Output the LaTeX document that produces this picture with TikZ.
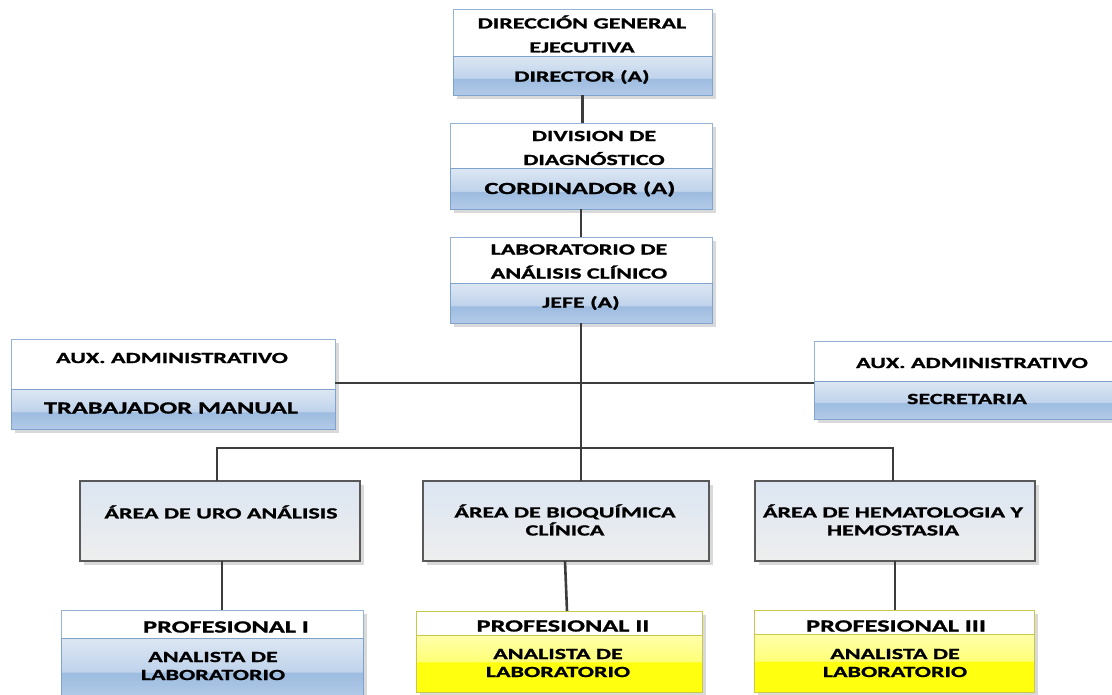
\documentclass[tikz,border=0pt]{standalone}
\usepackage{fontspec}
\setmainfont{Carlito}[FakeStretch=1.55, BoldFeatures={FakeBold=1.2}]
\usetikzlibrary{shadows}
\definecolor{bordeAzul}{HTML}{95B3D7}
\definecolor{bordeAzulO}{HTML}{7FA3CF}
\definecolor{azulT}{HTML}{DDE7F3}
\definecolor{azulM}{HTML}{BFD3EB}
\definecolor{azulD}{HTML}{9DBCE0}
\definecolor{azulB}{HTML}{B2CAE7}
\definecolor{amaT}{HTML}{FFFFAC}
\definecolor{amaM}{HTML}{FFFF78}
\definecolor{amaB}{HTML}{FFFF10}
\definecolor{bordeAma}{HTML}{C8C84A}
\definecolor{grisT}{HTML}{DCE6F2}
\definecolor{grisB}{HTML}{EEEEEE}
\definecolor{grisBorde}{HTML}{595959}
\definecolor{linea}{HTML}{3C3C3C}
\pgfdeclareverticalshading{bandaAzul}{100bp}{color(0bp)=(azulB); color(25bp)=(azulB); color(46bp)=(azulD); color(47bp)=(azulM); color(75bp)=(azulT); color(100bp)=(azulT)}
\pgfdeclareverticalshading{bandaAma}{100bp}{color(0bp)=(amaB); color(25bp)=(amaB); color(51bp)=(amaB); color(52bp)=(amaM); color(75bp)=(amaT); color(100bp)=(amaT)}
\tikzset{
  caja/.style={rectangle, inner sep=0pt, outer sep=0pt, anchor=north west, line width=0.9pt,
    drop shadow={shadow xshift=4pt, shadow yshift=-4pt, fill=black!15, opacity=1}},
  parteBlanca/.style={caja, draw=bordeAzul, fill=white},
  franjaAzul/.style={caja, draw=bordeAzulO, shade, shading=bandaAzul},
  parteAmarilla/.style={caja, draw=bordeAma, fill=white},
  franjaAmarilla/.style={caja, draw=bordeAma, shade, shading=bandaAma},
  area/.style={caja, draw=grisBorde, line width=1.2pt, top color=grisT, bottom color=grisB},
  texto/.style={font=\fontsize{15.5}{18}\selectfont\bfseries, align=center, inner sep=0pt},
  textoA/.style={font=\fontsize{15.5}{24}\selectfont\bfseries, align=center, inner sep=0pt},
  textoG/.style={font=\fontsize{17}{20}\selectfont\bfseries, align=center, inner sep=0pt},
  conector/.style={draw=linea, line width=2.6pt},
}
\begin{document}
\begin{tikzpicture}[x=1pt,y=-1pt]
\useasboundingbox (0,0) rectangle (1112,694);
% direccion general
\node[parteBlanca, minimum width=259pt, minimum height=47pt] (dirT) at (453,9) {};
\node[franjaAzul, minimum width=259pt, minimum height=39pt] (dirB) at (453,56) {};
\node[textoA] (dirTxt) at (582,34) {DIRECCIÓN GENERAL\\EJECUTIVA};
\node[texto] (dirRol) at (582,77) {DIRECTOR (A)};
% division
\node[parteBlanca, minimum width=262pt, minimum height=45pt] (divT) at (450,123) {};
\node[franjaAzul, minimum width=262pt, minimum height=41pt] (divB) at (450,168) {};
\node[textoA] (divTxt) at (594,148) {DIVISION DE\\DIAGNÓSTICO};
\node[textoG] (divRol) at (580,189) {CORDINADOR (A)};
% laboratorio
\node[parteBlanca, minimum width=262pt, minimum height=46pt] (labT) at (450,237) {};
\node[franjaAzul, minimum width=262pt, minimum height=40pt] (labB) at (450,283) {};
\node[textoA] (labTxt) at (579,261.5) {LABORATORIO DE\\ANÁLISIS CLÍNICO};
\node[texto] (labRol) at (581,303) {JEFE (A)};
% auxiliares
\node[parteBlanca, minimum width=324pt, minimum height=50pt] (auxIT) at (11,339) {};
\node[franjaAzul, minimum width=324pt, minimum height=40pt] (auxIB) at (11,389) {};
\node[texto] (auxITxt) at (172,358) {AUX. ADMINISTRATIVO};
\node[textoG] (auxIRol) at (171,408) {TRABAJADOR MANUAL};
\node[parteBlanca, minimum width=310pt, minimum height=40pt] (auxDT) at (814,341) {};
\node[franjaAzul, minimum width=310pt, minimum height=38pt] (auxDB) at (814,381) {};
\node[texto] (auxDTxt) at (972,363) {AUX. ADMINISTRATIVO};
\node[texto] (auxDRol) at (967,399) {SECRETARIA};
% areas
\node[area, minimum width=280pt, minimum height=80pt] (areaUro) at (80,481) {};
\node[area, minimum width=286pt, minimum height=80pt] (areaBio) at (423,481) {};
\node[area, minimum width=280pt, minimum height=80pt] (areaHem) at (755,481) {};
\node[texto] (uroTxt) at (221,512) {ÁREA DE URO ANÁLISIS};
\node[texto] (bioTxt) at (565,520) {ÁREA DE BIOQUÍMICA\\CLÍNICA};
\node[texto] (hemTxt) at (893,520) {ÁREA DE HEMATOLOGIA Y\\HEMOSTASIA};
% profesionales
\node[parteBlanca, minimum width=302pt, minimum height=28pt] (prof1T) at (61,610) {};
\node[franjaAzul, minimum width=302pt, minimum height=60pt] (prof1B) at (61,638) {};
\node[textoG] (prof1Txt) at (226,627) {PROFESIONAL I};
\node[texto] (prof1Rol) at (213,666) {ANALISTA DE\\LABORATORIO};
\node[parteAmarilla, minimum width=286pt, minimum height=24pt] (prof2T) at (416,611) {};
\node[franjaAmarilla, minimum width=286pt, minimum height=57pt] (prof2B) at (416,635) {};
\node[textoG] (prof2Txt) at (563,626) {PROFESIONAL II};
\node[texto] (prof2Rol) at (558,663) {ANALISTA DE\\LABORATORIO};
\node[parteAmarilla, minimum width=280pt, minimum height=24pt] (prof3T) at (754,610) {};
\node[franjaAmarilla, minimum width=280pt, minimum height=58pt] (prof3B) at (754,634) {};
\node[textoG] (prof3Txt) at (896,626) {PROFESIONAL III};
\node[texto] (prof3Rol) at (895,663) {ANALISTA DE\\LABORATORIO};
% conectores
\coordinate (eje) at (581,383);
\coordinate (ramal) at (581,448);
\draw[conector] (dirB.south) -- (dirB.south |- divT.north);
\draw[conector] (divB.south) -- (divB.south |- labT.north);
\draw[conector] (labB.south -| ramal) -- (ramal) -- (ramal |- areaBio.north);
\draw[conector, line width=2pt] (auxIT.east |- eje) -- (auxDT.west |- eje);
\draw[conector] ([xshift=-3pt]areaUro.north) |- (ramal) -| ([xshift=-2pt]areaHem.north);
\draw[conector] ([xshift=2pt]areaUro.south) -- ([xshift=2pt]areaUro.south |- prof1T.north);
\draw[conector] ([xshift=-1pt]areaBio.south) -- ([xshift=1pt]areaBio.south |- prof2T.north);
\draw[conector] (areaHem.south) -- (areaHem.south |- prof3T.north);
\end{tikzpicture}
\end{document}
